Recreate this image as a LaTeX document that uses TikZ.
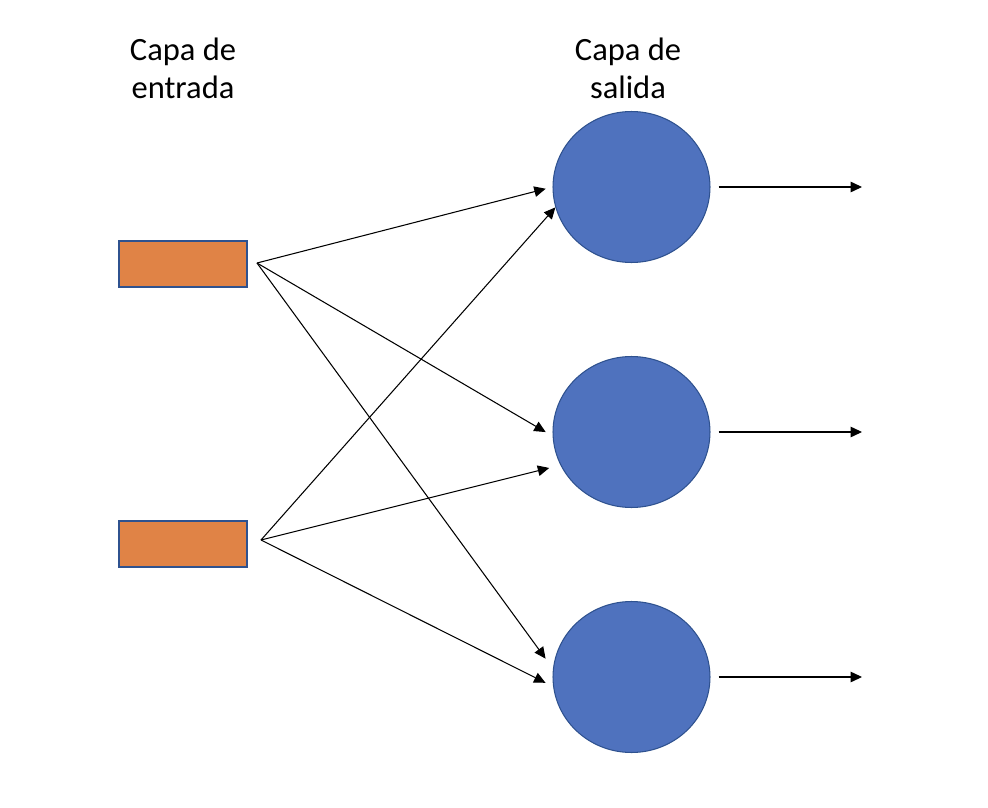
\documentclass[tikz,border=0pt]{standalone}
\usepackage{fontspec}
\setmainfont{Carlito}
\usetikzlibrary{arrows.meta,shapes.geometric}
\definecolor{inorange}{RGB}{224,131,70}
\definecolor{outblue}{RGB}{79,114,190}
\definecolor{edgeblue}{RGB}{47,82,143}

\begin{document}
\begin{tikzpicture}[x=0.02cm, y=-0.02cm,
        inbox/.style={rectangle, fill=inorange, draw=edgeblue, line width=1.3pt, minimum width=2.56cm, minimum height=0.92cm, inner sep=0pt},
        outnode/.style={ellipse, fill=outblue, draw=edgeblue, line width=0.6pt, minimum width=3.14cm, minimum height=3.02cm, inner sep=0pt},
        layer/.style={align=center, font=\fontsize{18.5}{21.5}\selectfont},
        link/.style={-{Triangle[length=6.5pt, width=6pt]}, line width=0.6pt}]
        \useasboundingbox (0, 0) rectangle (988, 808);
        \node[layer] (lin) at (183, 68) {Capa de\\entrada};
        \node[layer] (lout) at (628, 68) {Capa de\\salida};
        \node[inbox] (in1) at (183, 264) {};
        \node[inbox] (in2) at (183, 544) {};
        \coordinate (s1) at (257, 263);
        \coordinate (s2) at (261, 540);
        \node[outnode] (out1) at (631.5, 187) {};
        \node[outnode] (out2) at (631.5, 432) {};
        \node[outnode] (out3) at (631.5, 677) {};
        \coordinate (y1) at (862, 187);
        \coordinate (y2) at (862, 432);
        \coordinate (y3) at (862, 677);
        \draw[link, shorten >=0.14cm] (s1) -- (out1.west);
        \draw[link, shorten >=0.16cm] (s1) -- (out2.183);
        \draw[link, shorten >=0.25cm] (s1) -- (out3.174);
        \draw[link] (s2) -- (out1.195);
        \draw[link, shorten >=0.23cm] (s2) -- (out2.205);
        \draw[link, shorten >=0.17cm] (s2) -- (out3.187);
        \draw[link, shorten <=0.16cm] (out1.east) -- (y1);
        \draw[link, shorten <=0.16cm] (out2.east) -- (y2);
        \draw[link, shorten <=0.16cm] (out3.east) -- (y3);
\end{tikzpicture}
\end{document}
